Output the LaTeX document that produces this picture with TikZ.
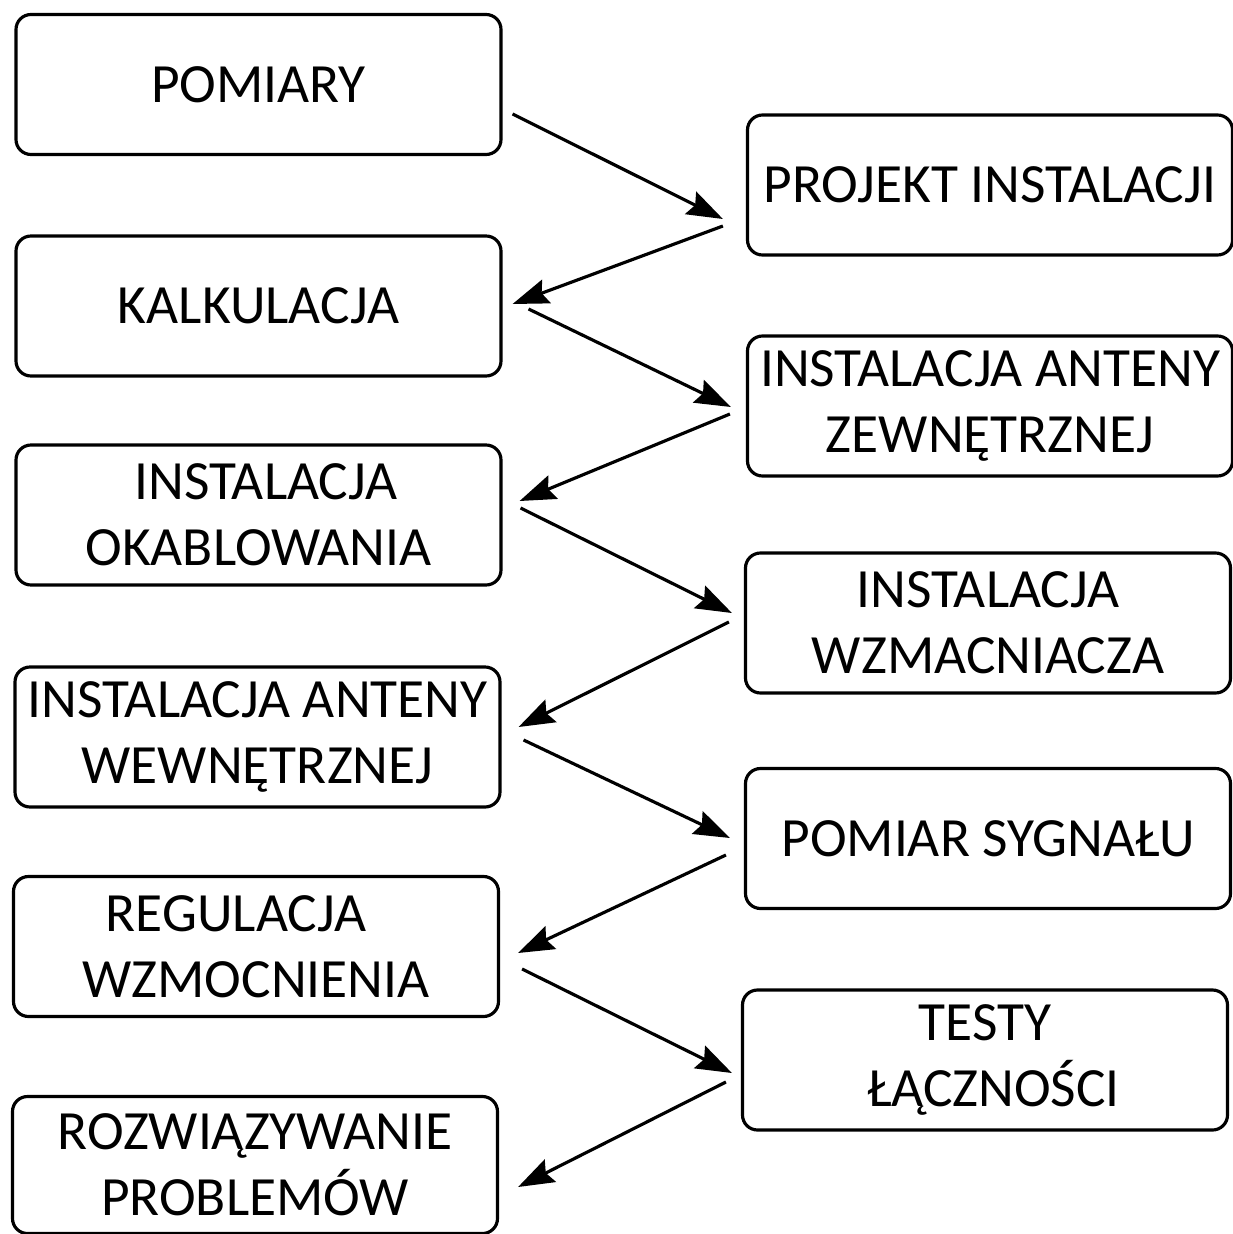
\documentclass[tikz,border=0pt]{standalone}
\usepackage{fontspec}
\setmainfont{Carlito}
\usepackage{tikz}
\usetikzlibrary{
    arrows.meta,
    positioning,
    calc
}

\begin{document}
\begin{tikzpicture}[
    >={Stealth[length=0.72cm, width=0.5cm, inset=0.1cm]},
    every text node part/.style={align=center},
    procbox/.style={draw, line width=1.8pt, rounded corners=0.3cm,
        minimum width=9.7cm, minimum height=2.8cm, inner sep=0pt,
        font=\fontsize{31.5pt}{37.5pt}\selectfont},
    flowarrow/.style={->, line width=1.8pt}
]

\useasboundingbox (0, 0) rectangle (24.64, -24.68);

% ==================== LEFT COLUMN ====================
\node[procbox] (pomiary) at (5.17, -1.69) {POMIARY};
\node[procbox] (kalkulacja) at (5.17, -6.12) {KALKULACJA};
\node[procbox] (okablowanie) at (5.17, -10.30) {\hspace*{0.3cm}INSTALACJA\\OKABLOWANIA};
\node[procbox] (antwew) at (5.15, -14.74) {INSTALACJA ANTENY\\WEWNĘTRZNEJ};
\node[procbox] (regulacja) at (5.12, -18.93) {REGULACJA\hspace*{0.8cm}\\WZMOCNIENIA};
\node[procbox, minimum height=2.74cm] (problemy) at (5.10, -23.30) {ROZWIĄZYWANIE\\PROBLEMÓW};

% ==================== RIGHT COLUMN ====================
\node[procbox] (projekt) at (19.80, -3.70) {PROJEKT INSTALACJI};
\node[procbox] (antzew) at (19.80, -8.12) {INSTALACJA ANTENY\\ZEWNĘTRZNEJ};
\node[procbox] (wzmacniacz) at (19.76, -12.46) {INSTALACJA\\WZMACNIACZA};
\node[procbox] (sygnal) at (19.76, -16.77) {POMIAR SYGNAŁU};
\node[procbox] (testy) at (19.70, -21.20) {TESTY\\\hspace*{0.35cm}ŁĄCZNOŚCI};

% Zig-zag connectors
\draw[flowarrow] ($(pomiary.east)+(0.20,-0.59)$) -- ($(projekt.west)+(-0.46,-0.68)$);
\draw[flowarrow] ($(projekt.west)+(-0.46,-0.82)$) -- ($(kalkulacja.east)+(0.20,0.04)$);
\draw[flowarrow] ($(kalkulacja.east)+(0.52,-0.06)$) -- ($(antzew.west)+(-0.30,-0.02)$);
\draw[flowarrow] ($(antzew.west)+(-0.32,-0.16)$) -- ($(okablowanie.east)+(0.34,0.28)$);
\draw[flowarrow] ($(okablowanie.east)+(0.36,0.14)$) -- ($(wzmacniacz.west)+(-0.24,0.20)$);
\draw[flowarrow] ($(wzmacniacz.west)+(-0.30,0.02)$) -- ($(antwew.east)+(0.34,0.20)$);
\draw[flowarrow] ($(antwew.east)+(0.44,-0.06)$) -- ($(sygnal.west)+(-0.28,0.01)$);
\draw[flowarrow] ($(sygnal.west)+(-0.36,-0.33)$) -- ($(regulacja.east)+(0.36,-0.13)$);
\draw[flowarrow] ($(regulacja.east)+(0.44,-0.45)$) -- ($(testy.west)+(-0.18,-0.26)$);
\draw[flowarrow] ($(testy.west)+(-0.30,-0.44)$) -- ($(problemy.east)+(0.38,-0.44)$);

\end{tikzpicture}
\end{document}
